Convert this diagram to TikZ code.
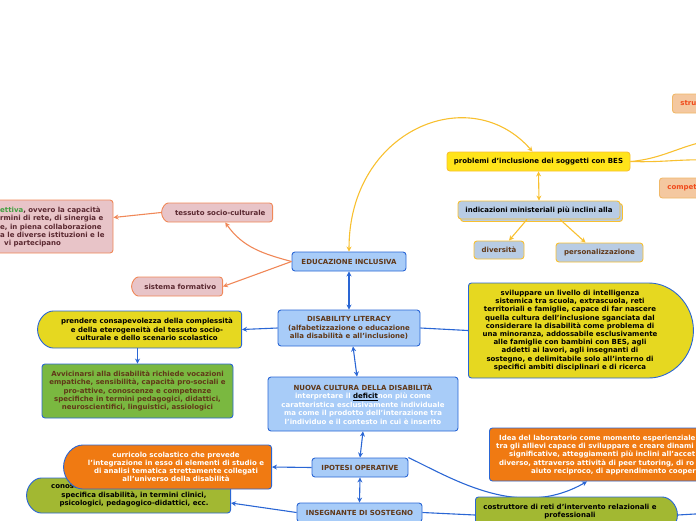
\documentclass[tikz,border=0pt]{standalone}
\usepackage{fontspec}
\setmainfont{DejaVu Sans}
\usepackage{tikz}
\usetikzlibrary{calc,shapes.misc,shadows,arrows.meta}

\definecolor{pinkfill}{HTML}{E8C4C8}
\definecolor{pinkline}{HTML}{F08858}
\definecolor{pinkdark}{HTML}{5A2830}
\definecolor{bluefill}{HTML}{A8CCF8}
\definecolor{blueline}{HTML}{2A66D4}
\definecolor{yelfill}{HTML}{FFE41A}
\definecolor{yelline}{HTML}{F8C030}
\definecolor{steelfill}{HTML}{B8CCE4}
\definecolor{lemonfill}{HTML}{E6D820}
\definecolor{greenfill}{HTML}{7AB840}
\definecolor{olivefill}{HTML}{A2B832}
\definecolor{orangefill}{HTML}{F07A12}
\definecolor{peachfill}{HTML}{F4C8A0}
\definecolor{peachline}{HTML}{F0B868}
\definecolor{peachtext}{HTML}{F04A1C}
\definecolor{browntext}{HTML}{603818}
\definecolor{greentext}{HTML}{40A040}

\tikzset{
  txt/.style={font=\bfseries\fontsize{7}{8.4}\selectfont, align=center, inner sep=2pt},
  box/.style={txt, line width=0.9pt, rounded corners=3pt},
  pinkbox/.style={box, draw=pinkline, fill=pinkfill, text=pinkdark},
  bluebox/.style={box, draw=blueline, fill=bluefill, text=browntext},
  yelbox/.style={box, draw=yelline, fill=yelfill, text=black},
  steelbox/.style={box, draw=yelline, fill=steelfill},
  peachbox/.style={box, draw=peachline, fill=peachfill, text=peachtext},
  lemonbox/.style={box, draw=blueline, fill=lemonfill},
  greenbox/.style={box, draw=blueline, fill=greenfill, text=browntext},
  olivebox/.style={box, draw=blueline, fill=olivefill},
  orangebox/.style={box, draw=blueline, fill=orangefill},
  leftround/.style={rounded rectangle, rounded rectangle right arc=none},
  rightround/.style={rounded rectangle, rounded rectangle left arc=none},
  corallink/.style={draw=pinkline, line width=1.1pt},
  goldlink/.style={draw=yelline, line width=1.1pt},
  bluelink/.style={draw=blueline, line width=1.1pt}
}

\begin{document}
\begin{tikzpicture}[x=1pt,y=-1pt,>={Stealth[length=5pt,width=5pt]}]
\useasboundingbox (0,0) rectangle (696,520);
\clip (0,0) rectangle (696,520);

% sistema e tessuto
\node[pinkbox, minimum width=226pt, minimum height=53pt] (COL) at (0,226.5) {};
\node[txt, text=pinkdark, anchor=west, align=left] (COLT) at (-2,227) {{\color{greentext}ettiva}, ovvero la capacità\\rmini di rete, di sinergia e\\e, in piena collaborazione\\a le diverse istituzioni e le\\\hspace*{4pt}vi partecipano};
\node[pinkbox, leftround, anchor=east, minimum width=115pt, minimum height=19pt] (TES) at (273,212.5) {\hspace*{6pt}tessuto socio-culturale};
\node[pinkbox, leftround, anchor=east, minimum width=95pt, minimum height=19pt] (SIS) at (223,286.5) {\hspace*{6pt}sistema formativo};
\node[bluebox, minimum width=114pt, minimum height=19pt] (EDU) at (349,261.5) {EDUCAZIONE INCLUSIVA};

% BES
\node[yelbox, minimum width=183pt, minimum height=19pt] (PRO) at (538.5,161.5) {problemi d'inclusione dei soggetti con BES};
\node[peachbox, anchor=west, minimum height=19pt, text width=60pt, align=left, inner xsep=8pt] (STR) at (672,103.5) {stru};
\node[peachbox, anchor=west, minimum height=20pt, text width=60pt, align=left, inner xsep=8pt] (COM) at (659,188) {compet};
\node[steelbox, copy shadow={shadow xshift=2.5pt, shadow yshift=-2.5pt}, minimum width=162pt, minimum height=18pt] (IND) at (539,210) {indicazioni ministeriali più inclini alla};
\node[steelbox, text=browntext, minimum width=50pt, minimum height=18pt] (DIV) at (499,250) {diversità};
\node[steelbox, text=browntext, minimum width=87pt, minimum height=19pt] (PER) at (599.5,252.5) {personalizzazione};
\coordinate (STRL) at (712,140);
\coordinate (COML) at (712,160);

% literacy
\node[bluebox, minimum width=142pt, minimum height=36pt] (DIS) at (349,328) {DISABILITY LITERACY\\(alfabetizzazione o educazione\\alla disabilità e all'inclusione)};
\node[lemonbox, rightround, anchor=west, minimum width=229pt, minimum height=95pt] (SVB) at (468,330.5) {};
\node[txt, font=\bfseries\fontsize{7}{8.2}\selectfont] (SVT) at (570,330.5) {sviluppare un livello di intelligenza\\sistemica tra scuola, extrascuola, reti\\territoriali e famiglie, capace di far nascere\\quella cultura dell'inclusione sganciata dal\\considerare la disabilità come problema di\\una minoranza, addossabile esclusivamente\\alle famiglie con bambini con BES, agli\\addetti ai lavori, agli insegnanti di\\sostegno, e delimitabile solo all'interno di\\specifici ambiti disciplinari e di ricerca};
\node[lemonbox, leftround, anchor=east, minimum width=208pt, minimum height=37pt] (PRE) at (242,329.5) {};
\node[txt] (PRET) at (147,329.5) {prendere consapevolezza della complessità\\e della eterogeneità del tessuto socio-\\culturale e dello scenario scolastico};
\node[greenbox, minimum width=191pt, minimum height=54pt] (AVV) at (137.5,391) {Avvicinarsi alla disabilità richiede vocazioni\\empatiche, sensibilità, capacità pro-sociali e\\pro-attive, conoscenze e competenze\\specifiche in termini pedagogici, didattici,\\neuroscientifici, linguistici, assiologici};
\node[bluebox, minimum width=190pt, minimum height=54pt] (NUO) at (363,404) {NUOVA CULTURA DELLA DISABILITÀ\\\textcolor{white}{interpretare il }\textcolor{black}{\underline{deficit}}\textcolor{white}{ non più come}\\\textcolor{white}{caratteristica esclusivamente individuale}\\\textcolor{white}{ma come il prodotto dell'interazione tra}\\\textcolor{white}{l'individuo e il contesto in cui è inserito}};

% ipotesi
\node[bluebox, minimum width=96pt, minimum height=19pt] (IPO) at (360,467.5) {IPOTESI OPERATIVE};
\node[olivebox, leftround, anchor=east, minimum width=208pt, minimum height=35pt] (CON) at (231,495.5) {};
\node[txt, anchor=west] (CONS) at (49,487) {conoscenze};
\node[txt] (CONT) at (134,499.5) {specifica disabilità, in termini clinici,\\psicologici, pedagogico-didattici, ecc.};
\node[orangebox, leftround, anchor=east, minimum width=212pt, minimum height=44pt] (CUR) at (272,467) {};
\node[txt, text=white, font=\bfseries\fontsize{7}{8.2}\selectfont] (CURT) at (176,467) {curricolo scolastico che prevede\\l'integrazione in esso di elementi di studio e\\di analisi tematica strettamente collegati\\all'universo della disabilità};
\node[bluebox, minimum width=125pt, minimum height=19pt] (INS) at (359.5,512.5) {INSEGNANTE DI SOSTEGNO};
\node[orangebox, anchor=west, minimum width=240pt, minimum height=53pt] (IDE) at (489,454.5) {};
\node[txt, text=white, anchor=west, align=left] (IDET) at (494,455) {\hspace*{3pt}Idea del laboratorio come momento esperienziale\\tra gli allievi capace di sviluppare e creare dinami\\\hspace*{13pt}significative, atteggiamenti più inclini all'accet\\\hspace*{3pt}diverso, attraverso attività di peer tutoring, di ro\\\hspace*{35pt}aiuto reciproco, di apprendimento cooper};

\draw[corallink,->] (TES.west) -- ($(COL.east)+(0,-9)$);
\draw[corallink,->] (EDU.west) to[out=165,in=-55] ($(TES.south)+(8,0)$);
\draw[corallink,->] (EDU.west) -- (SIS.east);

\draw[goldlink,<->] (EDU.north) .. controls (349,130) and (470,80) .. ($(PRO.north)+(-6,0)$);
\draw[goldlink] (PRO.east) to[out=5,in=190] (STRL);
\draw[goldlink] (PRO.east) to[out=-2,in=178] (COML);
\draw[goldlink,<->] (PRO.south) -- (IND.north);
\draw[goldlink,->] ($(IND.south)+(-12,0)$) -- ($(DIV.north)+(10,0)$);
\draw[goldlink,->] ($(IND.south)+(21,0)$) -- ($(PER.north)+(-14,0)$);

\draw[bluelink,<->] (EDU.south) -- (DIS.north);
\draw[bluelink] (DIS.east) -- (SVB.west);
\draw[bluelink,->] (DIS.west) -- (PRE.east);
\draw[bluelink,->] (AVV.north |- PRE.south) -- (AVV.north);
\draw[bluelink,<->] ($(DIS.south)+(4,0)$) -- ($(NUO.north)+(-6,0)$);
\draw[bluelink,<->] (NUO.south) -- (IPO.north);
\draw[bluelink,->] (IPO.west) -- (CUR.east);
\draw[bluelink,<->] (IPO.south) -- (INS.north);
\draw[bluelink,->] (INS.west) -- ($(CON.east)+(0,7.5)$);
\draw[bluelink,->] (IPO.north east) .. controls (455,480) and (520,520) .. ($(IDE.south west)+(98,0)$);

% costruttore
\node[olivebox, rightround, anchor=west, minimum width=206pt, minimum height=36pt] (COS) at (475,515) {};
\node[txt] (COST) at (570,511.5) {costruttore di reti d'intervento relazionali e\\professionali};
\coordinate (COSL) at (712,513);
\draw[bluelink] (INS.east) -- (COS.west);
\draw[bluelink] (COS.east) -- (COSL);
\end{tikzpicture}
\end{document}
